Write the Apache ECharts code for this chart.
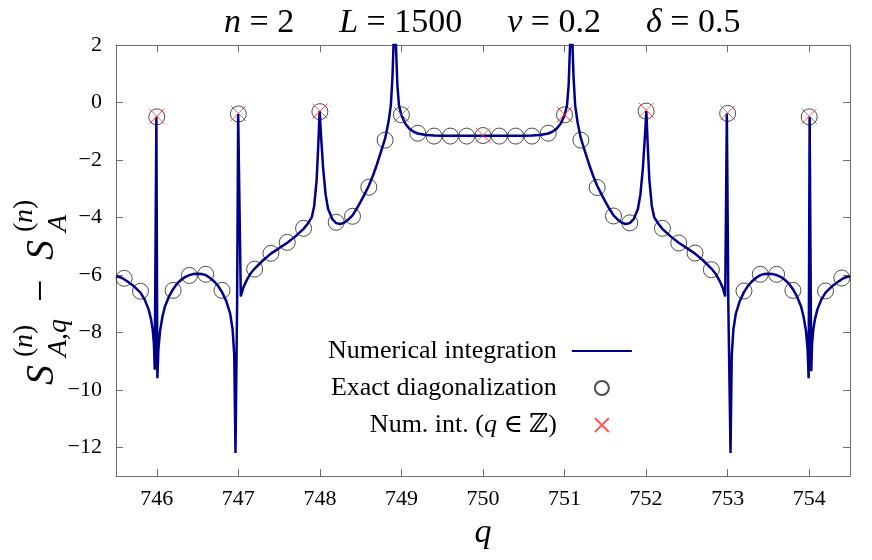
<!DOCTYPE html>
<html><head><meta charset="utf-8">
<script src="https://cdn.jsdelivr.net/npm/echarts@6/dist/echarts.min.js"></script>
<style>html,body{margin:0;padding:0;background:#fff}#c{width:872px;height:560px}</style>
</head><body><div id="c"></div>
<script>
// ---- data ----
const qTicks = [746, 747, 748, 749, 750, 751, 752, 753, 754];
const qTickLabels = ['746', '747', '748', '749', '750', '751', '752', '753', '754'];
const sTicks = [-12, -10, -8, -6, -4, -2, 0, 2];
const sTickLabels = ['\u221212', '\u221210', '\u22128', '\u22126', '\u22124', '\u22122', '0', '2'];

// numerical integration curve (q, S)
const curveLeft = [
 [745.50,-6.05],[745.55,-6.08],[745.60,-6.15],[745.65,-6.25],[745.70,-6.35],[745.75,-6.48],[745.80,-6.62],
 [745.85,-6.85],[745.90,-7.2],[745.93,-7.55],[745.95,-7.9],[745.965,-8.4],[745.975,-9.3],[745.995,-0.5],
 [746.007,-9.6],[746.02,-8.6],[746.04,-7.95],[746.07,-7.45],[746.10,-7.1],[746.15,-6.75],[746.20,-6.5],
 [746.25,-6.3],[746.30,-6.17],[746.35,-6.07],[746.40,-6.01],[746.45,-5.97],[746.50,-5.96],[746.55,-5.97],
 [746.60,-6.01],[746.65,-6.1],[746.70,-6.22],[746.75,-6.38],[746.80,-6.6],[746.85,-6.9],[746.90,-7.35],
 [746.93,-7.9],[746.95,-8.8],[746.965,-12.2],[746.985,-7.0],[746.998,-0.4],[747.03,-6.75],[747.06,-6.45],
 [747.10,-6.2],[747.15,-5.95],[747.20,-5.78],[747.30,-5.5],[747.40,-5.26],[747.50,-5.07],[747.60,-4.88],
 [747.70,-4.66],[747.80,-4.4],[747.85,-4.22],[747.90,-4.0],[747.93,-3.6],[747.96,-2.7],[747.98,-1.5],
 [747.997,-0.3],[748.015,-1.2],[748.04,-2.3],[748.07,-3.2],[748.10,-3.7],[748.15,-4.05],[748.20,-4.2],
 [748.25,-4.23],[748.30,-4.18],[748.35,-4.07],[748.40,-3.93],[748.45,-3.7],[748.50,-3.45],[748.55,-3.18],
 [748.60,-2.9],[748.65,-2.55],[748.70,-2.15],[748.75,-1.7],[748.80,-1.25],[748.84,-0.7],[748.87,-0.1],
 [748.89,0.9],[748.905,2.2],[748.915,4.0],[748.93,2.2],[748.95,0.6],[748.97,-0.1],[749.00,-0.45],
 [749.05,-0.75],[749.10,-0.92],[749.15,-1.02],[749.20,-1.08],[749.30,-1.13],[749.40,-1.15],[749.50,-1.16],
 [749.60,-1.16],[749.80,-1.16],[750.00,-1.16]
];
const curveRight = [
 [750.20,-1.16],[750.40,-1.16],[750.50,-1.16],[750.60,-1.15],[750.70,-1.13],[750.80,-1.08],[750.85,-1.02],
 [750.90,-0.92],[750.95,-0.75],[751.00,-0.45],[751.03,-0.1],[751.05,0.6],[751.07,2.2],[751.085,4.0],
 [751.095,2.2],[751.11,0.9],[751.13,-0.1],[751.16,-0.7],[751.20,-1.25],[751.25,-1.7],[751.30,-2.15],
 [751.35,-2.55],[751.40,-2.9],[751.45,-3.18],[751.50,-3.45],[751.55,-3.7],[751.60,-3.93],[751.65,-4.07],
 [751.70,-4.18],[751.75,-4.23],[751.80,-4.2],[751.85,-4.05],[751.90,-3.7],[751.93,-3.2],[751.96,-2.3],
 [751.985,-1.2],[752.003,-0.3],[752.02,-1.5],[752.04,-2.7],[752.07,-3.6],[752.10,-4.0],[752.15,-4.22],
 [752.20,-4.4],[752.30,-4.66],[752.40,-4.88],[752.50,-5.07],[752.60,-5.26],[752.70,-5.5],[752.80,-5.78],
 [752.85,-5.95],[752.90,-6.2],[752.94,-6.45],[752.97,-6.75],[752.99,-0.38],[753.008,-7.0],[753.035,-12.2],
 [753.05,-8.8],[753.07,-7.9],[753.10,-7.35],[753.15,-6.9],[753.20,-6.6],[753.25,-6.38],[753.30,-6.22],
 [753.35,-6.1],[753.40,-6.01],[753.45,-5.97],[753.50,-5.96],[753.55,-5.97],[753.60,-6.01],[753.65,-6.07],
 [753.70,-6.17],[753.75,-6.3],[753.80,-6.5],[753.85,-6.75],[753.90,-7.1],[753.93,-7.45],[753.96,-7.95],
 [753.98,-8.6],[753.993,-9.6],[754.005,-0.5],[754.025,-9.35],[754.035,-8.4],[754.05,-7.9],[754.07,-7.55],
 [754.10,-7.2],[754.15,-6.85],[754.20,-6.62],[754.25,-6.48],[754.30,-6.35],[754.35,-6.25],[754.40,-6.15],
 [754.45,-6.08],[754.50,-6.05]
];

// exact diagonalization (circles)
const edQ = [745.6,745.8,746.0,746.2,746.4,746.6,746.8,747.0,747.2,747.4,747.6,747.8,748.0,748.2,748.4,748.6,748.8,
             749.0,749.2,749.4,749.6,749.8,750.0,750.2,750.4,750.6,750.8,751.0,751.2,751.4,751.6,751.8,752.0,
             752.2,752.4,752.6,752.8,753.0,753.2,753.4,753.6,753.8,754.0,754.2,754.4];
const edS = [-6.12,-6.57,-0.5,-6.54,-6.02,-5.98,-6.54,-0.4,-5.8,-5.25,-4.87,-4.38,-0.32,-4.17,-3.96,-2.95,-1.31,
             -0.43,-1.07,-1.17,-1.17,-1.17,-1.15,-1.17,-1.17,-1.17,-1.07,-0.43,-1.31,-2.96,-3.95,-4.19,-0.3,
             -4.38,-4.89,-5.24,-5.82,-0.38,-6.56,-5.98,-5.98,-6.54,-0.5,-6.56,-6.11];

// numerical integration at integer q (crosses)
const intQ = [746, 747, 748, 749, 750, 751, 752, 753, 754];
const intS = [-0.48, -0.38, -0.3, -0.42, -1.14, -0.42, -0.27, -0.36, -0.48];

const seriesNames = ['Numerical integration', 'Exact diagonalization', 'Num. int. (q \u2208 \u2124)'];

// ---- chart ----
const F = "'Liberation Serif', 'DejaVu Serif', serif";
const chart = echarts.init(document.getElementById('c'), null, {renderer: 'canvas'});
const axisCol = '#6e6e6e';
function xAx(pos, showLabel) {
  return {
    type: 'value', position: pos, min: 745.5, max: 754.5,
    splitLine: {show: false},
    axisLine: {show: true, onZero: false, lineStyle: {color: axisCol, width: 1}},
    axisTick: {show: true, inside: true, length: 7, customValues: qTicks, lineStyle: {color: axisCol}},
    axisLabel: {show: showLabel, customValues: qTicks, margin: 12, fontFamily: F, fontSize: 22, color: '#000',
      formatter: v => qTickLabels[qTicks.indexOf(Math.round(v))]},
    name: showLabel ? 'q' : '', nameLocation: 'middle', nameGap: 40,
    nameTextStyle: {fontFamily: F, fontStyle: 'italic', fontSize: 34, color: '#000'}
  };
}
function yAx(pos, showLabel) {
  return {
    type: 'value', position: pos, min: -13, max: 2,
    splitLine: {show: false},
    axisLine: {show: true, onZero: false, lineStyle: {color: axisCol, width: 1}},
    axisTick: {show: true, inside: true, length: 7, customValues: sTicks, lineStyle: {color: axisCol}},
    axisLabel: {show: showLabel, customValues: sTicks, margin: 14, fontFamily: F, fontSize: 22, color: '#000',
      formatter: v => sTickLabels[sTicks.indexOf(Math.round(v))]}
  };
}
const crossPath = 'path://M0,0L10,10M10,0L0,10';
const lbl = (txt, x, y, size, italic) => ({
  type: 'text', x: x, y: y,
  style: {text: txt, font: (italic ? 'italic ' : '') + size + 'px ' + F, fill: '#000',
          verticalAlign: 'middle', textVerticalAlign: 'middle'}
});
const option = {
  animation: false,
  backgroundColor: '#fff',
  grid: {left: 116, right: 22, top: 45, bottom: 84},
  title: {
    left: 219, top: 1,
    text: '{i|n}{r| = 2}{g|}{i|L}{r| = 1500}{g|}{i|\u03bd}{r| = 0.2}{g|}{i|\u03b4}{r| = 0.5}',
    textStyle: {fontWeight: 'normal', rich: {
      i: {fontFamily: F, fontStyle: 'italic', fontWeight: 'normal', fontSize: 34, color: '#000'},
      r: {fontFamily: F, fontWeight: 'normal', fontSize: 34, color: '#000'},
      g: {width: 45}
    }}
  },
  xAxis: [xAx('bottom', true), xAx('top', false)],
  yAxis: [yAx('left', true), yAx('right', false)],
  legend: {
    orient: 'vertical', left: 323, top: 333, align: 'right',
    itemWidth: 60, itemHeight: 14, itemGap: 11,
    selectedMode: false,
    data: [
      {name: seriesNames[0], itemStyle: {opacity: 0}},
      {name: seriesNames[1]},
      {name: seriesNames[2]}
    ],
    formatter: function (name) {
      if (name === seriesNames[2]) return '{t|Num. int. (}{ti|q}{t| \u2208 \u2124)}';
      return '{t|' + name + '}';
    },
    textStyle: {
      width: 250, align: 'right', padding: [0, 10, 0, 0], fontFamily: F, fontSize: 26, color: '#000',
      rich: {
        t: {fontFamily: F, fontSize: 26, color: '#000', align: 'right'},
        ti: {fontFamily: F, fontSize: 26, fontStyle: 'italic', color: '#000', align: 'right'}
      }
    }
  },
  graphic: [{
    type: 'group', x: 42, y: 262, rotation: Math.PI / 2, silent: true,
    children: [
      lbl('S', -123, 0, 40, true),
      lbl('(', -95, -17, 28, false),
      lbl('n', -86, -17, 28, true),
      lbl(')', -72, -17, 28, false),
      lbl('A,q', -95, 17, 28, true),
      lbl('\u2212', -40, 0, 40, false),
      lbl('S', 2, 0, 40, true),
      lbl('(', 30, -17, 28, false),
      lbl('n', 39, -17, 28, true),
      lbl(')', 53, -17, 28, false),
      lbl('A', 30, 17, 28, true)
    ]
  }],
  series: [
    {
      name: seriesNames[1], type: 'scatter', data: edQ.map((q, i) => [q, edS[i]]),
      symbol: 'circle', symbolSize: 16, z: 2,
      itemStyle: {color: 'transparent', borderColor: '#222', borderWidth: 1},
      emphasis: {disabled: true}
    },
    {
      name: seriesNames[0], type: 'line', data: curveLeft.concat(curveRight),
      showSymbol: false, symbol: 'none', sampling: null, smooth: false, z: 3,
      lineStyle: {color: '#00008b', width: 2.5}, itemStyle: {color: '#00008b'},
      emphasis: {disabled: true}
    },
    {
      name: seriesNames[2], type: 'scatter', data: intQ.map((q, i) => [q, intS[i]]),
      symbol: crossPath, symbolSize: 15, symbolKeepAspect: true, z: 4,
      itemStyle: {color: 'transparent', borderColor: '#ff3030', borderWidth: 1},
      emphasis: {disabled: true}
    }
  ]
};
chart.setOption(option);
</script></body></html>
